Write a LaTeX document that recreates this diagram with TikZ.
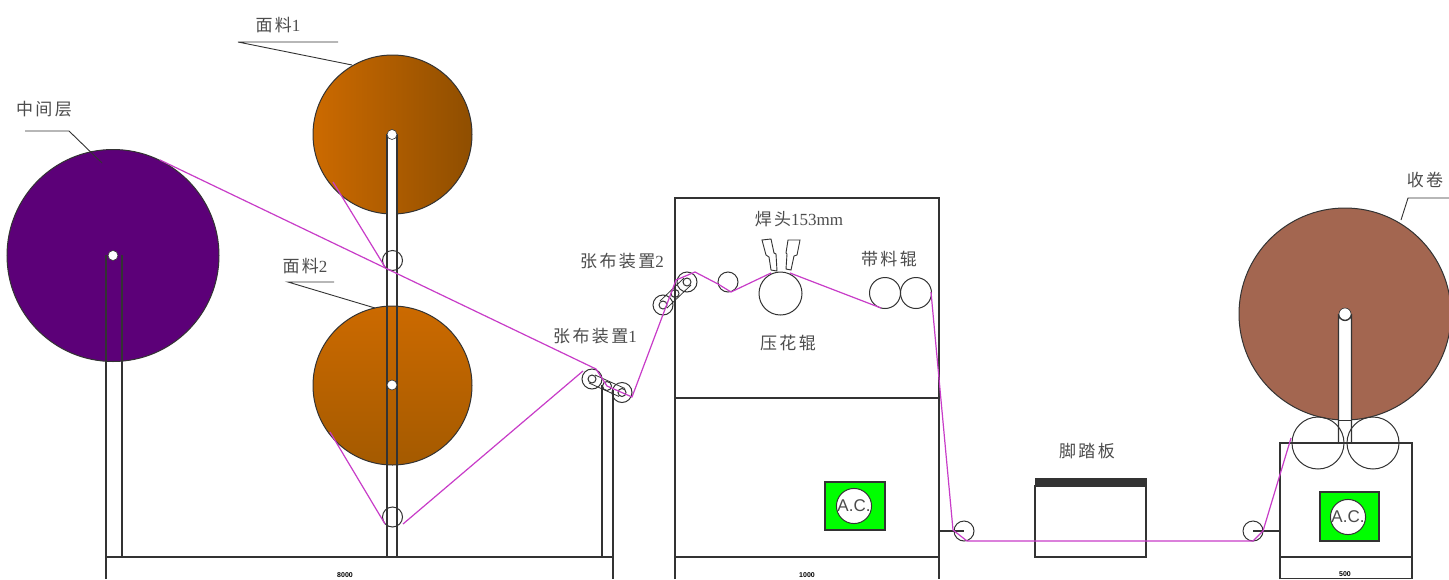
\documentclass[tikz,border=0pt]{standalone}
\usepackage{fontspec}
\setmainfont{Liberation Serif}
\newfontfamily\cjk[LetterSpace=14]{Noto Sans CJK SC}
\newfontfamily\arial{Liberation Sans}
\definecolor{lineink}{HTML}{333333}
\definecolor{webpink}{HTML}{C83CC8}
\definecolor{orangeA}{HTML}{CC6A00}
\definecolor{orangeB}{HTML}{8F4E00}
\definecolor{orangeC}{HTML}{A45A00}
\definecolor{midpurple}{HTML}{5C0078}
\definecolor{windbrown}{HTML}{A36650}
\tikzset{x=1pt,y=-1pt,
frame/.style={ % Machine outlines and posts
draw=lineink,
line width=1.2pt},
roll/.style={ % Big fabric rolls
circle,
draw=black!80,
line width=1pt,
inner sep=0pt},
roller/.style={ % Small guide rollers, not filled
circle,
draw=black!80,
line width=1pt,
inner sep=0pt},
hub/.style={
circle,
draw=black!80,
fill=white,
line width=0.6pt,
inner sep=0pt,
minimum size=10pt},
web/.style={ % Material path
draw=webpink,
line width=1.2pt,
line join=round},
caption/.style={
text=black!70,
inner sep=0pt,
font=\fontsize{17}{20}\selectfont},
dimtext/.style={
inner sep=0pt,
font=\arial\bfseries\fontsize{7}{7}\selectfont},
acbox/.style={
draw=lineink,
fill=green,
line width=1.1pt},
acmark/.style={
circle,
draw=black!80,
fill=white,
line width=1pt,
inner sep=0pt,
minimum size=33pt,
text=black!70,
font=\arial\fontsize{17}{17}\selectfont}}
\begin{document}
\begin{tikzpicture}
\useasboundingbox (0,0) rectangle (1449,579);
\fill[white] (0,0) rectangle (1449,579);

% rolls
\node[roll,fill=midpurple,minimum size=212pt] (rollMid) at (113,255.5) {};
\node[roll,fill=windbrown,minimum size=212pt] (rollWind) at (1345,314) {};
\node[roll,left color=orangeA,right color=orangeB,minimum size=159pt] (rollOne) at (392.5,134.5) {};
\draw[frame,fill=white] (387,134) -- (387,557) -- (397,557) -- (397,134);
\node[roll,top color=orangeA,bottom color=orangeC,minimum size=159pt] (rollTwo) at (392.5,385.5) {};

% posts
\draw[frame] (106,255) -- (106,557);
\draw[frame] (122,255) -- (122,557);
\draw[frame] (387,134) -- (387,557);
\draw[frame] (397,134) -- (397,557);
\draw[frame] (602,385) -- (602,557);
\draw[frame] (613,390) -- (613,557);
\draw[frame,fill=white] (1338.5,443) -- (1338.5,314) arc[start angle=180,end angle=0,radius=6.5] -- (1351.5,443);
\node[hub] (hubMid) at (113,255.5) {};
\node[hub] (hubOne) at (392,134.5) {};
\node[hub] (hubTwo) at (392,385) {};
\node[hub,minimum size=12pt] (hubWind) at (1345,314) {};
\draw[frame,line width=0.8pt] (1338.5,420) -- (1351.5,420);

% frames
\draw[frame] (106,579) -- (106,557) -- (613,557) -- (613,579);
\draw[frame] (675,579) -- (675,198) -- (939,198) -- (939,579);
\draw[frame] (675,398) -- (939,398);
\draw[frame] (675,557) -- (939,557);
\draw[frame] (1280,579) -- (1280,443) -- (1412,443) -- (1412,579);
\draw[frame] (1280,557) -- (1412,557);
\draw[frame,line width=0.8pt] (1280,578.3) -- (1412,578.3);
\draw[frame,fill=black!80,line width=0.6pt] (1035,478) rectangle (1146,486);
\draw[frame] (1035,486) rectangle (1146,557);

% rollers
\node[roller,minimum size=20pt] (guideOne) at (392.5,260.5) {};
\node[roller,minimum size=20pt] (guideTwo) at (392.5,517) {};
\node[roller,minimum size=20pt] (tensA) at (592,379) {};
\node[roller,minimum size=8pt] (tensAin) at (592,379) {};
\node[roller,minimum size=9pt] (tensM) at (607,386) {};
\node[roller,minimum size=20pt] (tensB) at (622,392.5) {};
\node[roller,minimum size=8pt] (tensBin) at (622,392.5) {};
\node[roller,minimum size=20pt] (tensC) at (663,305) {};
\node[roller,minimum size=8pt] (tensCin) at (663,305) {};
\node[roller,minimum size=8pt] (tensN) at (675,293.5) {};
\node[roller,minimum size=20pt] (tensD) at (687,282) {};
\node[roller,minimum size=8pt] (tensDin) at (687,282) {};
\node[roller,minimum size=20pt] (guideTop) at (728,282) {};
\node[roller,minimum size=43pt] (emboss) at (780.5,293.5) {};
\node[roller,minimum size=31pt] (feedA) at (885,293) {};
\node[roller,minimum size=31pt] (feedB) at (916,293) {};
\node[roller,minimum size=20pt] (guideOut) at (964,531) {};
\node[roller,minimum size=20pt] (guideIn) at (1253,531) {};
\node[roller,minimum size=52pt] (windA) at (1318,443) {};
\node[roller,minimum size=52pt] (windB) at (1373,443) {};

% tensioner links
\draw[frame,line width=0.8pt] (589,383) -- (619,396.5);
\draw[frame,line width=0.8pt] (595,375) -- (625,388.5);
\draw[frame,line width=0.8pt] (660,301) -- (684,278);
\draw[frame,line width=0.8pt] (667,308) -- (691,285);

% welding heads
\draw[frame,line width=0.9pt] (762,240) -- (771,239) -- (774,253) -- (776,254) -- (777,271) -- (771,270) -- (769,257) -- (766,255) -- cycle;
\draw[frame,line width=0.9pt] (788,240) -- (800,240) -- (797,255) -- (794,256) -- (791,270) -- (786,269) -- (787,254) -- (786,253) -- cycle;

% stub arms
\draw[frame] (939,531) -- (guideOut.center);
\draw[frame] (1280,531) -- (guideIn.center);

% material path
\coordinate (webMidOff) at (160,160);
\coordinate (webOneOff) at (333,182);
\coordinate (webMerge) at (385,267);
\coordinate (webTwoOff) at (330,432);
\coordinate (webGuideL) at (385,524);
\coordinate (webGuideR) at (403,524);
\coordinate (webTensIn) at (583,371);
\coordinate (webTensTop) at (596,369);
\coordinate (webTensOut) at (632,397);
\coordinate (webTurn) at (676,280);
\coordinate (webTop) at (695,272);
\coordinate (webDipA) at (718,284);
\coordinate (webDipB) at (731,292);
\coordinate (webEmbL) at (771,273);
\coordinate (webEmbR) at (790,273);
\coordinate (webFeedA) at (881,308);
\coordinate (webFeedB) at (931,292);
\coordinate (webDown) at (953,530);
\coordinate (webFloorA) at (967,541);
\coordinate (webFloorB) at (1253,541);
\coordinate (webUpA) at (1263,531);
\coordinate (webUpB) at (1291,438);
\draw[web] (webMidOff) -- (webTensTop) -- (tensM.center) -- (webTensOut) -- (webTurn) -- (webTop) -- (webDipA) -- (webDipB) -- (webEmbL);
\draw[web] (webEmbR) -- (webFeedA);
\draw[web] (webFeedB) -- (webDown) -- (webFloorA) -- (webFloorB) -- (webUpA) -- (webUpB);
\draw[web] (webOneOff) -- (webMerge);
\draw[web] (webTwoOff) -- (webGuideL);
\draw[web] (webGuideR) -- (webTensIn);

% AC marks
\draw[acbox] (825,482) rectangle (885,530);
\node[acmark] (acLeft) at (854,506) {A.C.};
\draw[acbox] (1320,492) rectangle (1379,541);
\node[acmark] (acRight) at (1348,517) {A.C.};

% labels
\node[caption] (capMid) at (44,109) {{\cjk 中间层}};
\node[caption] (capOne) at (278,25) {{\cjk 面料}1};
\node[caption] (capTwo) at (305,266) {{\cjk 面料}2};
\node[caption] (capTensA) at (595,336) {{\cjk 张布装置}1};
\node[caption] (capTensB) at (622,261) {{\cjk 张布装置}2};
\node[caption] (capWeld) at (799,219) {{\cjk 焊头}153mm};
\node[caption] (capFeed) at (889,259) {{\cjk 带料辊}};
\node[caption] (capEmb) at (788,343) {{\cjk 压花辊}};
\node[caption] (capPedal) at (1087,451) {{\cjk 脚踏板}};
\node[caption] (capWind) at (1425,180) {{\cjk 收卷}};
\node[dimtext] (dimA) at (345,575.5) {8000};
\node[dimtext] (dimB) at (807,575.5) {1000};
\node[dimtext] (dimC) at (1345,574.5) {500};

% leaders
\coordinate (leadMidA) at (25,131);
\coordinate (leadMidB) at (69,131);
\coordinate (leadMidC) at (102,163);
\coordinate (leadOneA) at (338,42);
\coordinate (leadOneB) at (238,42);
\coordinate (leadOneC) at (352,65);
\coordinate (leadTwoA) at (334,282);
\coordinate (leadTwoB) at (288,282);
\coordinate (leadTwoC) at (375,308);
\coordinate (leadWindA) at (1449,198);
\coordinate (leadWindB) at (1408,198);
\coordinate (leadWindC) at (1401,220);
\draw[frame,line width=0.9pt] (leadMidA) -- (leadMidB) -- (leadMidC);
\draw[frame,line width=0.9pt] (leadOneA) -- (leadOneB) -- (leadOneC);
\draw[frame,line width=0.9pt] (leadTwoA) -- (leadTwoB) -- (leadTwoC);
\draw[frame,line width=0.9pt] (leadWindA) -- (leadWindB) -- (leadWindC);
\end{tikzpicture}
\end{document}
